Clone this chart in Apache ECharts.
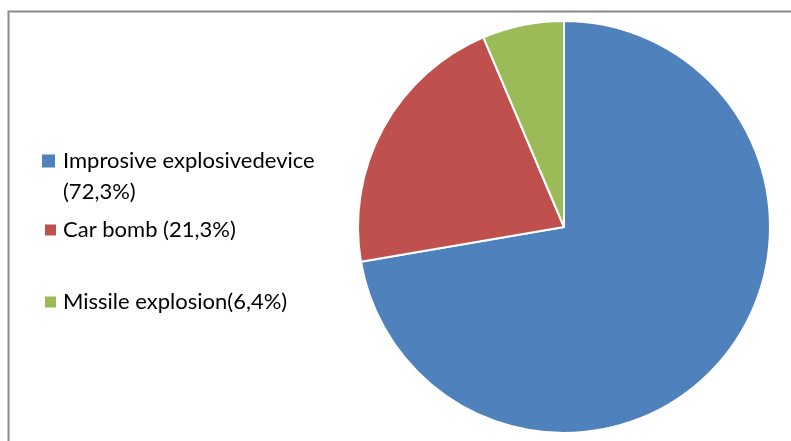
<!DOCTYPE html>
<html>
<head>
<meta charset="utf-8">
<script src="https://cdn.jsdelivr.net/npm/echarts@6/dist/echarts.min.js"></script>
<style>html,body{margin:0;padding:0;background:#fff;}#c{width:791px;height:441px;}</style>
</head>
<body>
<div id="c"></div>
<script>
var categories = ['Improsive explosivedevice', 'Car bomb', 'Missile explosion'];
var values = [72.3, 21.3, 6.4];
var legendLabels = ['Improsive explosivedevice', 'Car bomb (21,3%)', 'Missile explosion(6,4%)'];
var firstLabelSecondLine = '(72,3%)';
var colors = ['#4F81BD', '#C0504D', '#9BBB59'];

var FONT = 'Lato';
var FS = 22;

var chart = echarts.init(document.getElementById('c'), null, {renderer: 'canvas'});

function mkLegend(i, left, top, size, pad) {
  return {
    data: [categories[i]],
    left: left, top: top,
    orient: 'vertical',
    itemWidth: size, itemHeight: size,
    icon: 'rect',
    selectedMode: false,
    padding: 0,
    itemStyle: {borderWidth: 0},
    formatter: function () { return legendLabels[i]; },
    textStyle: {fontFamily: FONT, fontSize: FS, color: '#000', lineHeight: 24, padding: [0, 0, 0, pad]}
  };
}

chart.setOption({
  animation: false,
  color: colors,
  legend: [
    mkLegend(0, 42, 149, 13, 3),
    mkLegend(1, 45, 218, 11, 2),
    mkLegend(2, 45, 290, 11, 2)
  ],
  graphic: [
    {type: 'rect', shape: {x: 8.5, y: 11.5, width: 900, height: 600},
     style: {fill: 'none', stroke: '#8a8a8a', lineWidth: 2}, silent: true},
    {type: 'text', left: 63, top: 181,
     style: {text: firstLabelSecondLine, fontFamily: FONT, fontSize: FS, fill: '#000'}}
  ],
  series: [{
    type: 'pie',
    center: [564, 227],
    radius: 206,
    startAngle: 90,
    clockwise: true,
    label: {show: false},
    labelLine: {show: false},
    emphasis: {disabled: true},
    itemStyle: {borderColor: '#fff', borderWidth: 2},
    data: categories.map(function (c, i) { return {name: c, value: values[i]}; })
  }]
});
</script>
</body>
</html>
